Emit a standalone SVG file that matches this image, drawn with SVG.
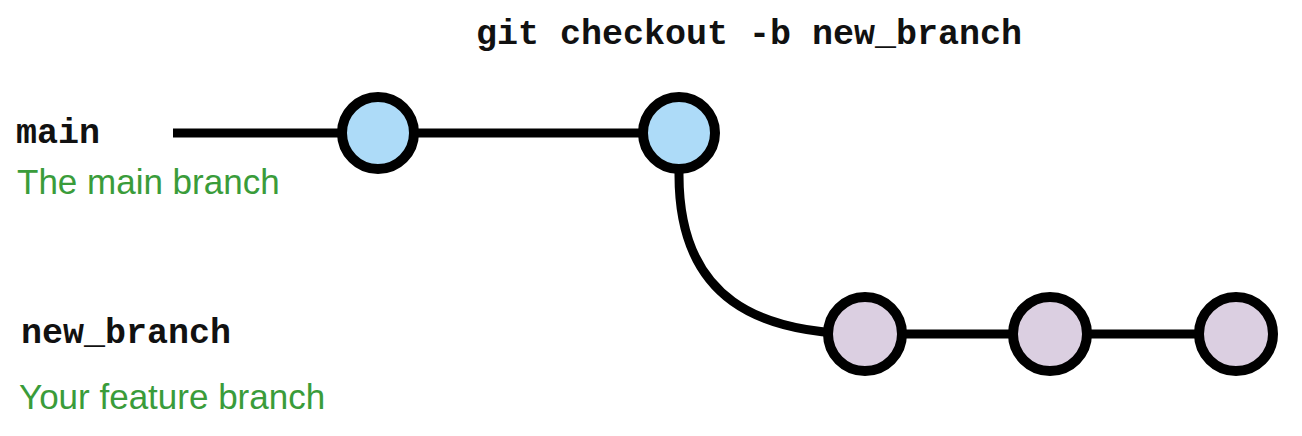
<svg xmlns="http://www.w3.org/2000/svg" width="1302" height="436" viewBox="0 0 1302 436">
<style>
.mono{font-family:"Liberation Mono","Courier New",monospace;font-weight:bold;font-size:35px;fill:#111}
.desc{font-family:"Liberation Sans",Arial,sans-serif;font-size:35px;fill:#3a9c3a}
.line{stroke:#000;stroke-width:9;fill:none}
.main{fill:#addbf8;stroke:#000;stroke-width:10}
.feat{fill:#dbcfe1;stroke:#000;stroke-width:10}
</style>
<rect width="1302" height="436" fill="#fff"/>
<g id="connectors">
<line class="line" x1="173" y1="133" x2="378" y2="133"/>
<line class="line" x1="378" y1="133" x2="679" y2="133"/>
<path class="line" d="M679,133 L679,175 C679,300 760,334 865,334"/>
<line class="line" x1="865" y1="334" x2="1236" y2="334"/>
</g>
<g id="label-command"><text class="mono" x="476" y="44">git checkout -b new_branch</text></g>
<g id="label-main">
<text class="mono" x="16" y="143">main</text>
<text class="desc" x="17" y="194">The main branch</text>
</g>
<g id="label-new-branch">
<text class="mono" x="21" y="343">new_branch</text>
<text class="desc" x="19" y="409">Your feature branch</text>
</g>
<g id="commit-m1"><circle class="main" cx="378" cy="133" r="36"/></g>
<g id="commit-m2"><circle class="main" cx="679" cy="133" r="36"/></g>
<g id="commit-f1"><circle class="feat" cx="865" cy="334" r="37"/></g>
<g id="commit-f2"><circle class="feat" cx="1050" cy="334" r="37"/></g>
<g id="commit-f3"><circle class="feat" cx="1236" cy="334" r="37"/></g>
</svg>
